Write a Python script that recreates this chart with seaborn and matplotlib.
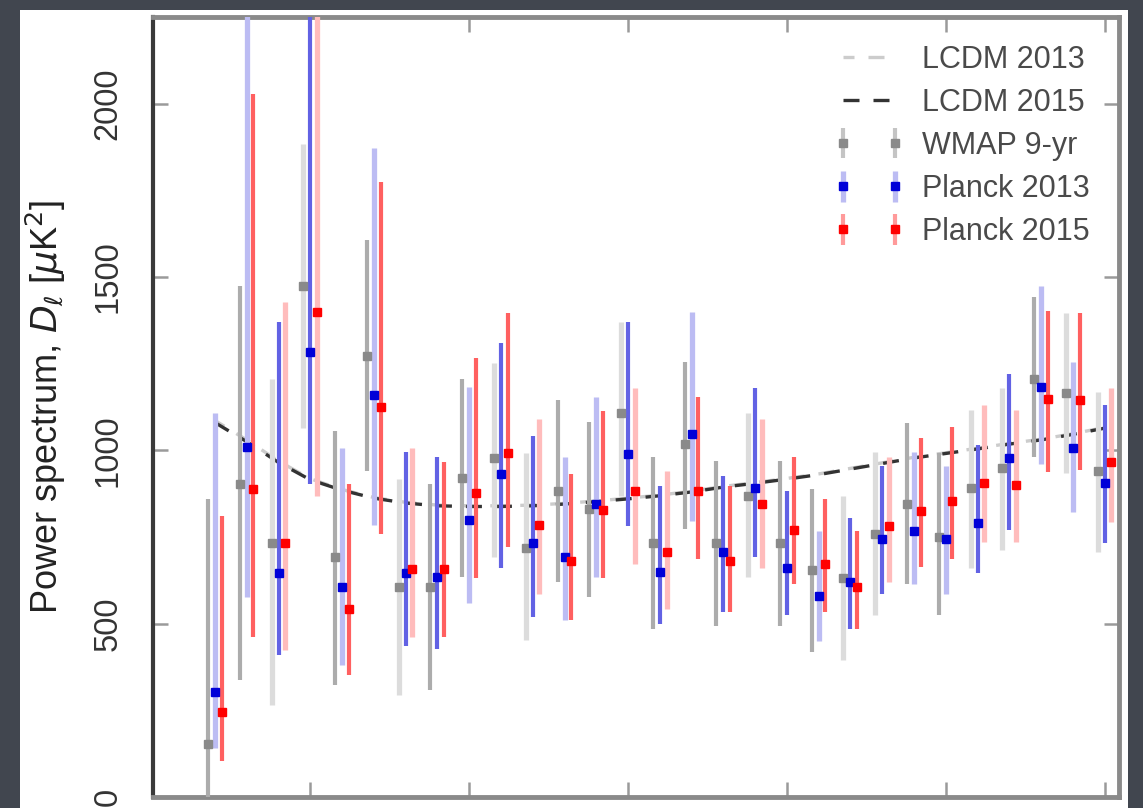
import matplotlib
matplotlib.use("Agg")
import matplotlib.pyplot as plt
import matplotlib.colors as mcolors
from matplotlib.collections import LineCollection
import seaborn as sns
import numpy as np
from matplotlib.patches import Rectangle

# ---------------- data ----------------
ell = list(range(2, 31))

lcdm_2015 = [1080, 1025, 965, 915, 885, 862, 848, 840, 838, 838, 840, 845, 852, 860,
             869, 880, 894, 905, 917, 930, 946, 962, 978, 991, 1004, 1018, 1030, 1046, 1064]
lcdm_2013 = [1086, 1030, 969, 918, 887, 864, 850, 842, 840, 840, 842, 847, 854, 862,
             871, 882, 896, 907, 919, 932, 948, 964, 980, 993, 1006, 1020, 1032, 1048, 1066]

wmap_val = [153, 903, 732, 1473, 693, 1272, 605, 605, 921, 977, 718, 882, 831, 1109,
            732, 1017, 732, 867, 732, 654, 631, 758, 845, 751, 890, 948, 1207, 1164, 940]
wmap_low = [-80, 337, 265, 1063, 323, 939, 294, 308, 634, 693, 452, 620, 576, 867,
            485, 772, 494, 635, 494, 418, 395, 526, 614, 526, 660, 712, 980, 934, 706]
wmap_high = [859, 1473, 1207, 1883, 1056, 1608, 918, 903, 1207, 1252, 991, 1144, 1081, 1369,
             980, 1255, 968, 1107, 968, 889, 867, 994, 1078, 991, 1115, 1179, 1441, 1395, 1167]

p13_val = [303, 1009, 646, 1284, 606, 1161, 645, 635, 798, 932, 732, 693, 845, 988,
           649, 1046, 707, 892, 660, 581, 620, 744, 766, 744, 790, 977, 1184, 1006, 905]
p13_low = [141, 576, 409, 903, 380, 784, 435, 426, 559, 660, 518, 511, 634, 781,
           500, 795, 533, 693, 526, 450, 485, 585, 614, 585, 646, 769, 962, 821, 732]
p13_high = [1107, 2600, 1369, 2600, 1006, 1873, 994, 980, 1182, 1310, 1041, 980, 1153, 1369,
            896, 1398, 925, 1179, 882, 766, 804, 954, 994, 954, 1014, 1219, 1475, 1254, 1130]

p15_val = [245, 889, 732, 1398, 543, 1124, 657, 657, 877, 991, 784, 681, 828, 882,
           707, 882, 681, 845, 769, 671, 605, 781, 824, 853, 905, 899, 1147, 1144, 965]
p15_low = [104, 461, 424, 867, 351, 758, 461, 461, 631, 722, 585, 511, 631, 671,
           543, 686, 533, 660, 614, 533, 485, 620, 664, 686, 735, 735, 937, 942, 793]
p15_high = [810, 2029, 1427, 2600, 903, 1775, 1006, 965, 1266, 1397, 1089, 932, 1114, 1179,
            939, 1153, 896, 1089, 980, 860, 766, 980, 1035, 1066, 1130, 1115, 1403, 1395, 1179]

legend_labels = ["LCDM 2013", "LCDM 2015", "WMAP 9-yr", "Planck 2013", "Planck 2015"]
y_ticks = [0, 500, 1000, 1500, 2000]
x_ticks = [5, 10, 15, 20, 25, 30]

# ---------------- style (per-bar shade as seen in the reference: 1 = pale) ----------------
wmap_pale = [0, 0, 1, 1, 0, 0, 1, 0, 0, 1, 1, 0, 0, 1, 0, 0, 0, 1, 0, 0, 1, 1, 0, 0, 1, 1, 0, 1, 1]
p13_pale = [1, 1, 0, 0, 1, 1, 0, 0, 1, 0, 0, 1, 1, 0, 0, 1, 0, 0, 0, 1, 0, 0, 1, 1, 0, 0, 1, 1, 0]
p15_pale = [0, 0, 1, 1, 0, 0, 1, 0, 0, 0, 1, 0, 0, 1, 1, 0, 0, 1, 0, 0, 0, 1, 0, 0, 1, 1, 0, 0, 1]

DARK = {"wmap": "#acacac", "p13": "#6262e4", "p15": "#ff6060"}
LIGHT = {"wmap": "#dcdcdc", "p13": "#bcbcf3", "p15": "#ffbcbc"}
LEGEND_BAR = {"wmap": "#c4c4c4", "p13": "#9898ee", "p15": "#ff9a9a"}

sns.set_theme(style="white")
plt.rcParams["font.family"] = ["Liberation Sans", "DejaVu Sans"]
plt.rcParams["mathtext.fontset"] = "dejavusans"

W, H = 1143, 808
fig = plt.figure(figsize=(W / 100, H / 100), dpi=100)
fig.patch.set_facecolor("#41464f")
fig.add_artist(Rectangle((20 / W, 0), (1128 - 20) / W, (H - 10) / H,
                         transform=fig.transFigure, facecolor="white",
                         edgecolor="none", zorder=0))

ax = fig.add_axes([153 / W, 11 / H, (1119 - 153) / W, (797 - 17) / H])
ax.set_facecolor("white")

ell_arr = np.array(ell, dtype=float)

sns.lineplot(x=ell, y=lcdm_2013, ax=ax, color="#cccccc", linewidth=2.4,
             label=legend_labels[0], zorder=3)
sns.lineplot(x=ell, y=lcdm_2015, ax=ax, color="#333333", linewidth=2.4,
             label=legend_labels[1], zorder=4)
ax.lines[0].set_linestyle((1.5, (4.8, 4.2)))
ax.lines[1].set_linestyle((0, (4.8, 4.2)))


def draw(offset, val, low, high, pale, mcolor, key, label):
    v = np.array(val, float)
    lo = v - np.array(low, float)
    hi = np.array(high, float) - v
    cont = ax.errorbar(ell_arr + offset, v, yerr=[lo, hi], fmt="s", ms=5.4,
                       mfc=mcolor, mec=mcolor, ecolor=DARK[key], elinewidth=3.0,
                       capsize=0, label=label, zorder=5)
    coll = cont.lines[2][0]
    coll.set_color([LIGHT[key] if p else DARK[key] for p in pale])
    coll.set_linewidth([3.8 if p else 3.0 for p in pale])


draw(-0.22, wmap_val, wmap_low, wmap_high, wmap_pale, "#8a8a8a", "wmap", legend_labels[2])
draw(0.0, p13_val, p13_low, p13_high, p13_pale, "#0000d8", "p13", legend_labels[3])
draw(0.21, p15_val, p15_low, p15_high, p15_pale, "#ff0000", "p15", legend_labels[4])

ax.set_xlim(0.05, 30.45)
ax.set_ylim(0, 2250)
ax.set_xticks(x_ticks)
ax.set_yticks(y_ticks)
ax.set_xlabel("")
ax.set_ylabel(r"Power spectrum, $D_\ell$ [$\mu$K$^2$]", fontsize=26, color="#222222")
ax.yaxis.set_label_coords(-0.088, 0.5)

ax.tick_params(axis="both", direction="in", length=11, width=1.8, color="#9a9a9a",
               top=True, right=True, bottom=True, left=True, labelbottom=False)
ax.tick_params(axis="y", labelsize=23.5, labelcolor="#333333", pad=21)
for t in ax.get_yticklabels():
    t.set_rotation(90)
    t.set_va("center")

for name, sp in ax.spines.items():
    sp.set_visible(True)
    sp.set_linewidth(3.5)
    sp.set_color("#8a8a8a")
ax.spines["left"].set_color("#3a3a3a")
ax.spines["left"].set_linewidth(3.0)

leg = ax.legend(loc="upper right", bbox_to_anchor=(0.992, 0.992), frameon=False,
                fontsize=22, numpoints=2, handlelength=2.3, handletextpad=0.6,
                labelspacing=0.43, borderaxespad=0.3)
for t in leg.get_texts():
    t.set_color("#4a4a4a")

# legend error-bar handles drawn in a mid shade, as in the reference
dark_to_key = {mcolors.to_hex(c): k for k, c in DARK.items()}
for coll in leg.findobj(LineCollection):
    cols = coll.get_colors()
    if len(cols):
        key = dark_to_key.get(mcolors.to_hex(cols[0]))
        if key:
            coll.set_color(LEGEND_BAR[key])

fig.savefig("out.png", dpi=100, facecolor=fig.get_facecolor())
